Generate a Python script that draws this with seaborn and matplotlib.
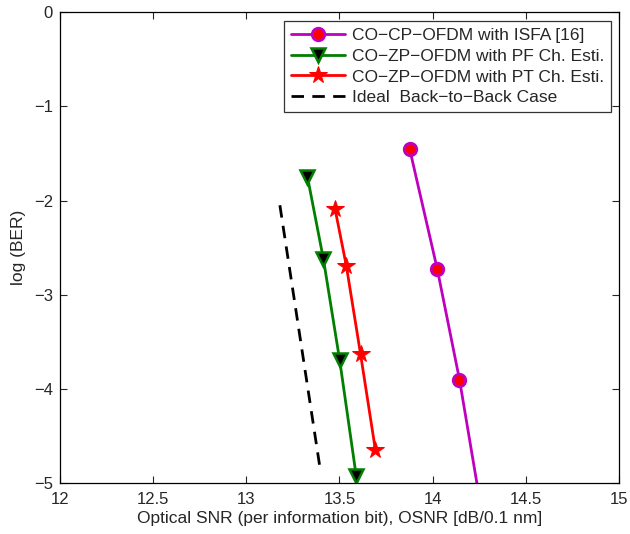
import matplotlib
matplotlib.use("Agg")
import matplotlib.pyplot as plt
import seaborn as sns

# Data
cp_isfa_x = [13.877, 14.025, 14.144, 14.28]
cp_isfa_y = [-1.457, -2.73, -3.90, -5.5]
zp_pf_x = [13.328, 13.414, 13.501, 13.590]
zp_pf_y = [-1.748, -2.625, -3.694, -4.926]
zp_pt_x = [13.476, 13.537, 13.613, 13.693]
zp_pt_y = [-2.088, -2.696, -3.63, -4.65]
ideal_x = [13.18, 13.394]
ideal_y = [-2.05, -4.82]

labels = ["CO\u2212CP\u2212OFDM with ISFA [16]",
          "CO\u2212ZP\u2212OFDM with PF Ch. Esti.",
          "CO\u2212ZP\u2212OFDM with PT Ch. Esti.",
          "Ideal  Back\u2212to\u2212Back Case"]
xticks = [12, 12.5, 13, 13.5, 14, 14.5, 15]
yticks = [0, -1, -2, -3, -4, -5]

sns.set_style("ticks")
plt.rcParams['font.family'] = ['Liberation Sans', 'DejaVu Sans']

W, H = 630, 534
fig = plt.figure(figsize=(W / 100, H / 100), dpi=100)
ax = fig.add_axes([60 / W, 1 - 483.3 / H, (619 - 60) / W, (483.3 - 12) / H])

magenta = '#BF00BF'
green = '#007F00'

sns.lineplot(x=cp_isfa_x, y=cp_isfa_y, sort=False, ax=ax, color=magenta, lw=2,
             marker='o', markersize=9, markerfacecolor='red', markeredgecolor=magenta,
             markeredgewidth=2, label=labels[0])
sns.lineplot(x=zp_pf_x, y=zp_pf_y, sort=False, ax=ax, color=green, lw=2,
             marker='v', markersize=10, markerfacecolor='black', markeredgecolor=green,
             markeredgewidth=1.8, label=labels[1])
sns.lineplot(x=zp_pt_x, y=zp_pt_y, sort=False, ax=ax, color='red', lw=2,
             marker='*', markersize=13, markerfacecolor='red', markeredgecolor='red',
             label=labels[2])
sns.lineplot(x=ideal_x, y=ideal_y, sort=False, ax=ax, color='black', lw=2,
             linestyle=(0, (4.5, 3)), label=labels[3])

ax.set_xlim(12, 15)
ax.set_ylim(-5, 0)
ax.set_xticks(xticks)
ax.set_xticklabels([f"{t:g}" for t in xticks])
ax.set_yticks(yticks)
ax.set_yticklabels([("\u2212" + str(-t)) if t < 0 else str(t) for t in yticks])
ax.tick_params(direction='in', top=True, right=True, labelsize=12, length=5, width=0.8)
ax.tick_params(axis='x', pad=6)
ax.tick_params(axis='y', pad=5)
for s in ax.spines.values():
    s.set_linewidth(0.9)
    s.set_color('black')

ax.set_xlabel("Optical SNR (per information bit), OSNR [dB/0.1 nm]", fontsize=12.5, labelpad=3)
ax.set_ylabel("log (BER)", fontsize=12.5, labelpad=6)

leg = ax.legend(loc='upper right', bbox_to_anchor=(611 / W, 1 - 21 / H),
                bbox_transform=fig.transFigure, fontsize=12.5, frameon=True,
                fancybox=False, edgecolor='black', borderpad=0.4, labelspacing=0.32,
                handlelength=3.1, handletextpad=0.4, borderaxespad=0)
leg.get_frame().set_linewidth(0.9)

fig.savefig("out.png", dpi=100)
